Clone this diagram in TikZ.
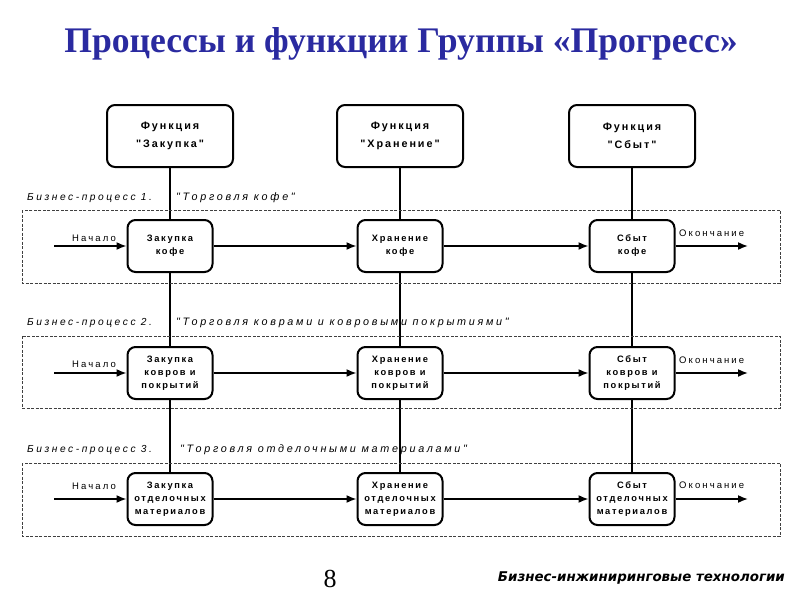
\documentclass[tikz,border=0pt]{standalone}
\usepackage{fontspec}
\setmainfont{Liberation Sans}
\newfontfamily\titlefont{Liberation Serif}
\newfontfamily\footfont{DejaVu Sans}
\newfontfamily\boxfont[LetterSpace=18]{Liberation Sans}
\newfontfamily\labfont[LetterSpace=25]{Liberation Sans}
\newfontfamily\endfont[LetterSpace=22]{Liberation Sans}
\usetikzlibrary{arrows.meta,backgrounds}
\definecolor{titleblue}{RGB}{42,42,160}
\begin{document}
\begin{tikzpicture}[x=1pt,y=-1pt,
  funcbox/.style={draw, line width=2pt, rounded corners=8pt, fill=white,
    minimum width=126pt, minimum height=62pt, align=center, inner sep=0pt,
    font=\boxfont\bfseries\fontsize{10.8}{18.5}\selectfont},
  procbox/.style={draw, line width=2pt, rounded corners=8pt, fill=white,
    minimum width=85pt, minimum height=52pt, align=center, inner sep=0pt,
    font=\boxfont\bfseries\fontsize{9.3}{13}\selectfont},
  bplab/.style={anchor=west, inner sep=0pt, font=\labfont\itshape\fontsize{10.2}{12}\selectfont},
  quotelab/.style={anchor=west, inner sep=0pt, font=\labfont\itshape\fontsize{10.8}{12}\selectfont},
  startlab/.style={anchor=east, inner sep=0pt, font=\endfont\fontsize{9.5}{11}\selectfont},
  endlab/.style={anchor=west, inner sep=0pt, font=\endfont\fontsize{9.5}{11}\selectfont},
  vline/.style={line width=1.6pt},
  flow/.style={line width=1.6pt, -{Latex[length=10pt,width=8pt]}},
  region/.style={draw=black!75, line width=0.8pt, dash pattern=on 3pt off 1.5pt}
]
\useasboundingbox (0,0) rectangle (800,600);

% title
\node[font=\titlefont\bfseries\fontsize{36}{40}\selectfont, text=titleblue, inner sep=0pt, xscale=0.99] (title) at (401,44) {Процессы и функции Группы «Прогресс»};

% regions
\draw[region] (22,210) rectangle (780,283);
\draw[region] (22,336) rectangle (780,408);
\draw[region] (22,463) rectangle (780,536);

% function boxes
\node[funcbox] (f1) at (170,136) {Функция\\"Закупка"};
\node[funcbox] (f2) at (400,136) {Функция\\"Хранение"};
\node[funcbox] (f3) at (632,136) {Функция\\"Сбыт"};

% process labels
\node[bplab] (b1) at (27,198) {Бизнес-процесс 1.};
\node[quotelab] (t1) at (176,198) {"Торговля кофе"};
\node[bplab] (b2) at (27,323) {Бизнес-процесс 2.};
\node[quotelab] (t2) at (176,323) {"Торговля коврами и ковровыми покрытиями"};
\node[bplab] (b3) at (27,450) {Бизнес-процесс 3.};
\node[quotelab] (t3) at (180,450) {"Торговля отделочными материалами"};

% process boxes
\node[procbox] (p11) at (170,246) {Закупка\\кофе};
\node[procbox] (p12) at (400,246) {Хранение\\кофе};
\node[procbox] (p13) at (632,246) {Сбыт\\кофе};
\node[procbox] (p21) at (170,373) {Закупка\\ковров и\\покрытий};
\node[procbox] (p22) at (400,373) {Хранение\\ковров и\\покрытий};
\node[procbox] (p23) at (632,373) {Сбыт\\ковров и\\покрытий};
\node[procbox] (p31) at (170,499) {Закупка\\отделочных\\материалов};
\node[procbox] (p32) at (400,499) {Хранение\\отделочных\\материалов};
\node[procbox] (p33) at (632,499) {Сбыт\\отделочных\\материалов};

% vertical function lines
\begin{scope}[on background layer]
\draw[vline] (f1.south) -- (p31.north);
\draw[vline] (f2.south) -- (p32.north);
\draw[vline] (f3.south) -- (p33.north);
\end{scope}

% start / end coordinates
\coordinate (s1) at (54,246);
\coordinate (s2) at (54,373);
\coordinate (s3) at (54,499);
\coordinate (e1) at (748,246);
\coordinate (e2) at (748,373);
\coordinate (e3) at (748,499);

% flows
\foreach \r in {1,2,3}{
  \draw[flow] (s\r) -- (p\r1.west);
  \draw[flow] (p\r1.east) -- (p\r2.west);
  \draw[flow] (p\r2.east) -- (p\r3.west);
  \draw[flow] (p\r3.east) -- (e\r);
}

% start / end labels
\node[startlab] (n1) at (116,238) {Начало};
\node[startlab] (n2) at (116,364) {Начало};
\node[startlab] (n3) at (116,486) {Начало};
\node[endlab] (o1) at (679,233) {Окончание};
\node[endlab] (o2) at (679,360) {Окончание};
\node[endlab] (o3) at (679,485) {Окончание};

% footer
\node[font=\titlefont\fontsize{26}{30}\selectfont, inner sep=0pt] (page) at (330,579) {8};
\node[font=\footfont\bfseries\itshape\fontsize{13.4}{16}\selectfont, anchor=east, inner sep=0pt] (foot) at (785,578) {Бизнес-инжиниринговые технологии};
\end{tikzpicture}
\end{document}
